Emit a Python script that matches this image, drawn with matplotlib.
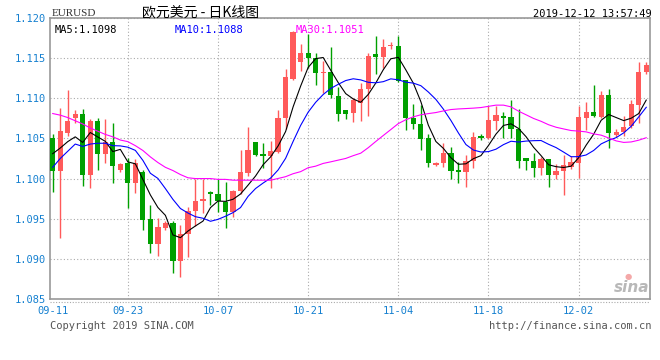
import matplotlib
matplotlib.use("Agg")
import matplotlib.pyplot as plt
import pandas as pd

tick_idx = [0, 10, 22, 34, 46, 58, 70]
tick_labels = ["09-11", "09-23", "10-07", "10-21", "11-04", "11-18", "12-02"]
y_ticks = [1.085, 1.090, 1.095, 1.100, 1.105, 1.110, 1.115, 1.120]

opens = [1.1050, 1.1009, 1.1057, 1.1075, 1.1080, 1.1004, 1.1072, 1.1030, 1.1045, 1.1011,
         1.1019, 1.0995, 1.1008, 1.0950, 1.0919, 1.0938, 1.0945, 1.0897, 1.0931, 1.0959,
         1.0972, 1.0983, 1.0981, 1.0971, 1.0958, 1.0984, 1.1007, 1.1045, 1.1030, 1.1028,
         1.1033, 1.1075, 1.1124, 1.1145, 1.1157, 1.1150, 1.1131, 1.1133, 1.1103, 1.1086,
         1.1082, 1.1094, 1.1112, 1.1155, 1.1152, 1.1165, 1.1165, 1.1123, 1.1076, 1.1068,
         1.1050, 1.1017, 1.1019, 1.1032, 1.1011, 1.1008, 1.1022, 1.1053, 1.1051, 1.1072,
         1.1078, 1.1077, 1.1062, 1.1025, 1.1022, 1.1013, 1.1024, 1.1004, 1.1010, 1.1014,
         1.1020, 1.1076, 1.1083, 1.1077, 1.1104, 1.1054, 1.1058, 1.1065, 1.1092, 1.1133]
highs = [1.1056, 1.1088, 1.1110, 1.1086, 1.1087, 1.1074, 1.1076, 1.1074, 1.1069, 1.1020,
         1.1026, 1.1025, 1.1011, 1.0967, 1.0951, 1.0947, 1.0947, 1.0942, 1.0964, 1.0999,
         1.1000, 1.0984, 1.1000, 1.0996, 1.0986, 1.1035, 1.1064, 1.1046, 1.1044, 1.1047,
         1.1086, 1.1137, 1.1184, 1.1167, 1.1180, 1.1157, 1.1146, 1.1164, 1.1114, 1.1086,
         1.1100, 1.1119, 1.1156, 1.1177, 1.1174, 1.1170, 1.1177, 1.1123, 1.1093, 1.1092,
         1.1056, 1.1021, 1.1044, 1.1039, 1.1021, 1.1029, 1.1058, 1.1056, 1.1091, 1.1090,
         1.1083, 1.1098, 1.1087, 1.1026, 1.1032, 1.1027, 1.1024, 1.1018, 1.1029, 1.1028,
         1.1091, 1.1095, 1.1117, 1.1109, 1.1111, 1.1062, 1.1078, 1.1098, 1.1145, 1.1145]
lows = [1.0983, 1.0926, 1.1053, 1.1069, 1.0991, 1.0988, 1.1011, 1.1020, 1.0994, 1.1008,
        1.0963, 1.0982, 1.0936, 1.0907, 1.0903, 1.0936, 1.0883, 1.0878, 1.0902, 1.0941,
        1.0957, 1.0967, 1.0958, 1.0939, 1.0952, 1.0981, 1.1003, 1.1028, 1.1013, 1.0988,
        1.1032, 1.1062, 1.1123, 1.1134, 1.1138, 1.1116, 1.1106, 1.1100, 1.1072, 1.1074,
        1.1071, 1.1072, 1.1078, 1.1130, 1.1138, 1.1162, 1.1120, 1.1061, 1.1062, 1.1035,
        1.1014, 1.1016, 1.1014, 1.0999, 1.0994, 1.0989, 1.1013, 1.1048, 1.1049, 1.1061,
        1.1050, 1.1050, 1.1013, 1.1011, 1.1002, 1.1005, 1.0989, 1.1000, 1.0979, 1.1012,
        1.1001, 1.1061, 1.1077, 1.1075, 1.1038, 1.1052, 1.1053, 1.1063, 1.1069, 1.1130]
closes = [1.1010, 1.1059, 1.1072, 1.1080, 1.1004, 1.1072, 1.1031, 1.1045, 1.1016, 1.1018,
          1.0994, 1.1019, 1.0948, 1.0919, 1.0940, 1.0945, 1.0897, 1.0931, 1.0960, 1.0972,
          1.0975, 1.0981, 1.0972, 1.0958, 1.0985, 1.1008, 1.1036, 1.1029, 1.1028, 1.1034,
          1.1076, 1.1126, 1.1183, 1.1157, 1.1150, 1.1131, 1.1133, 1.1104, 1.1080, 1.1081,
          1.1098, 1.1112, 1.1153, 1.1151, 1.1164, 1.1166, 1.1121, 1.1075, 1.1068, 1.1049,
          1.1019, 1.1020, 1.1032, 1.1010, 1.1008, 1.1022, 1.1052, 1.1051, 1.1073, 1.1079,
          1.1076, 1.1062, 1.1022, 1.1022, 1.1013, 1.1024, 1.1005, 1.1010, 1.1017, 1.1021,
          1.1077, 1.1083, 1.1078, 1.1104, 1.1057, 1.1058, 1.1064, 1.1093, 1.1133, 1.1141]

# valores das médias antes de ter janela completa
ma5_head = [1.1031, 1.1038, 1.1046, 1.1052]
ma10_head = [1.1014, 1.1025, 1.1034, 1.1043, 1.1040, 1.1043, 1.1044, 1.1044, 1.1041]
ma30_head = [1.1081, 1.1079, 1.1076, 1.1072, 1.1068, 1.1063, 1.1059, 1.1055, 1.1052, 1.1048,
             1.1046, 1.1041, 1.1035, 1.1027, 1.1020, 1.1014, 1.1010, 1.1005, 1.1001, 1.1000,
             1.1000, 1.1000, 1.0999, 1.0999, 1.0998, 1.0998, 1.0998, 1.0998, 1.0998]

RED = "#ff5a5a"
GREEN = "#00a000"
BLUE_TXT = "#1580d0"
MONO = "DejaVu Sans Mono"


def media_movel(n, head):
    s = pd.Series(closes).rolling(n).mean()
    s.iloc[:len(head)] = head
    return s


ma5 = media_movel(5, ma5_head)
ma10 = media_movel(10, ma10_head)
ma30 = media_movel(30, ma30_head)

W, H = 660, 360
fig = plt.figure(figsize=(W / 100, H / 100), dpi=100)
ax = fig.add_axes([50 / W, 1 - 299 / H, 600 / W, 281 / H])

for i, (o, h, l, c) in enumerate(zip(opens, highs, lows, closes)):
    cor = RED if c >= o else GREEN
    ax.vlines(i, l, h, color=cor, linewidth=1, zorder=3)
    base = min(o, c)
    alt = max(abs(c - o), 0.00005)
    ax.bar(i, alt, bottom=base, width=0.7, color=cor, linewidth=0, zorder=4)

x = range(len(closes))
ax.plot(x, ma5, color="black", linewidth=0.8, zorder=5)
ax.plot(x, ma10, color="#0000ff", linewidth=0.8, zorder=5)
ax.plot(x, ma30, color="#ff00ff", linewidth=0.8, zorder=5)

ax.set_xlim(-0.36, 79.5)
ax.set_ylim(1.085, 1.120)
ax.set_xticks(tick_idx)
ax.set_xticklabels(tick_labels)
ax.set_yticks(y_ticks)
ax.set_yticklabels([f"{v:.3f}" for v in y_ticks])
ax.tick_params(length=0, colors=BLUE_TXT, labelsize=7.5, pad=3)
for lbl in ax.get_xticklabels() + ax.get_yticklabels():
    lbl.set_fontfamily(MONO)
ax.tick_params(axis="x", pad=5)
ax.grid(True, linestyle=(0, (1, 2)), color="#aaaaaa", linewidth=0.8)
ax.xaxis.get_gridlines()[0].set_visible(False)
for sp in ax.spines.values():
    sp.set_color("#999999")
    sp.set_linewidth(1.2)

# linha pontilhada abaixo do eixo
fig.add_artist(plt.Line2D([50 / W, 650 / W], [1 - 302 / H, 1 - 302 / H],
                          color="#aaaaaa", linestyle=(0, (1, 1.5)), linewidth=0.8))

fig.text(55 / W, 1 - 30 / H, "MA5:1.1098", fontsize=7.5, family=MONO, color="black", va="center")
fig.text(175 / W, 1 - 30 / H, "MA10:1.1088", fontsize=7.5, family=MONO, color="#0000ff", va="center")
fig.text(296 / W, 1 - 30 / H, "MA30:1.1051", fontsize=7.5, family=MONO, color="#ff00ff", va="center")

fig.text(52 / W, 1 - 13 / H, "EURUSD", fontsize=8, family="Liberation Serif",
         color="#333333", va="center")
fig.text(201 / W, 1 - 12 / H, "欧元美元 - 日K线图", fontsize=10,
         family=["Noto Sans CJK SC", "DejaVu Sans"], color="black", ha="center", va="center")
fig.text(652 / W, 1 - 14 / H, "2019-12-12 13:57:49", fontsize=7.5, family=MONO,
         color="black", ha="right", va="center")

fig.text(50 / W, 1 - 326 / H, "Copyright 2019 SINA.COM", fontsize=7.5, family=MONO,
         color="#555555", va="center")
fig.text(652 / W, 1 - 326 / H, "http://finance.sina.com.cn", fontsize=7.5, family=MONO,
         color="#555555", ha="right", va="center")

# marca d'água sina
fig.text(632 / W, 1 - 288 / H, "sina", fontsize=11, fontstyle="italic", fontweight="bold",
         color="#b8b8b8", ha="center", va="center")
fig.text(628 / W, 1 - 276 / H, "●", fontsize=6, color="#f4a8a8", ha="center", va="center")

fig.savefig("out.png", dpi=100)
